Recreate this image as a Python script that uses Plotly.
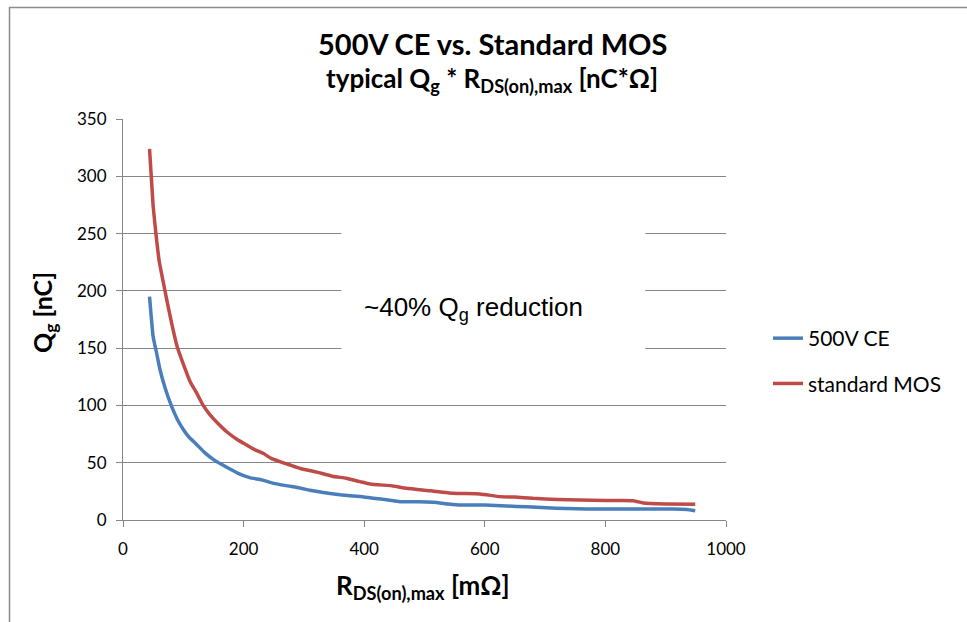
import plotly.graph_objects as go

# ---- data ----
r_ce = [44, 50, 56, 61, 70, 80, 90, 100, 110, 122, 135, 152, 172, 190, 210, 230, 250, 270, 293, 310,
        332, 360, 393, 415, 440, 459, 490, 515, 540, 559, 600, 636, 670, 702, 735, 769, 800, 850, 912, 935, 949]
q_ce = [195, 160, 145, 132, 115, 100, 88, 79, 72, 66, 59, 52, 46, 41, 37, 35, 32, 30, 28, 26,
        24, 22, 20.5, 19, 17.5, 16, 16, 15.4, 14, 13.1, 13, 12.2, 11.5, 10.7, 10, 9.6, 9.6, 9.6, 9.6, 9.2, 8.1]

r_std = [44, 50, 55, 60, 67, 73, 81, 90, 103, 112, 122, 133, 144, 158, 172, 190, 205, 220, 233, 245,
         260, 277, 294, 320, 349, 370, 393, 410, 448, 470, 510, 548, 592, 625, 650, 680, 720, 758, 800,
         846, 863, 900, 949]
q_std = [324, 274, 248, 226, 207, 191, 171, 151, 132, 120, 111, 100, 92, 84, 77, 70, 65.5, 61, 58, 54,
         51, 48, 45, 42, 38, 36.5, 33.5, 31.4, 29.7, 27.7, 25.5, 23.3, 22.7, 20.4, 20, 18.9, 18, 17.5, 17,
         16.9, 14.8, 14, 13.7]

series_names = ["500V CE", "standard MOS"]
series_colors = ["#4a7ebb", "#be4b48"]

x_ticks = [0, 200, 400, 600, 800, 1000]
y_ticks = [0, 50, 100, 150, 200, 250, 300, 350]

FONT = "Lato"
GRID = "#868686"

fig = go.Figure()
for i, (xs, ys) in enumerate([(r_ce, q_ce), (r_std, q_std)]):
    fig.add_trace(go.Scatter(x=xs, y=ys, mode="lines", name=series_names[i],
                             legendgroup=series_names[i],
                             line=dict(color=series_colors[i], width=3.5, shape="spline", smoothing=0.4)))

W, H = 967, 622
L, R, T, B = 123, 241, 119, 102
PW, PH = W - L - R, H - T - B


def px_x(px):
    return (px - L) / PW


def px_y(py):
    return (H - B - py) / PH


def ann(text, px, py, size, family=FONT, angle=0):
    return dict(text=text, x=px_x(px), y=px_y(py), xref="paper", yref="paper",
                xanchor="center", yanchor="middle", textangle=angle, showarrow=False,
                font=dict(family=family, size=size, color="#000"))


annotations = [
    ann("<b>500V CE vs. Standard MOS</b>", 492, 43, 29),
    ann("<b>typical Q<sub>g</sub> * R<sub>DS(on),max</sub> [nC*Ω]</b>", 492, 80, 26),
    ann("<b>Q<sub>g</sub> [nC]</b>", 44, 313, 25, angle=-90),
    ann("<b>R<sub>DS(on),max</sub> [mΩ]</b>", 423, 586, 26),
    dict(text="~40% Q<sub>g</sub> reduction", x=582, y=185, xref="x", yref="y", showarrow=False,
         xanchor="center", yanchor="middle",
         font=dict(family="Liberation Sans", size=26, color="#000")),
]

shapes = [
    # white box behind the annotation, hiding gridlines
    dict(type="rect", xref="x", yref="y", x0=362, x1=866, y0=120, y1=270,
         fillcolor="white", line=dict(width=0), layer="between"),
    # outer chart border
    dict(type="rect", xref="paper", yref="paper", x0=px_x(9.5), x1=px_x(1100), y0=px_y(700), y1=px_y(7.5),
         fillcolor="rgba(0,0,0,0)", line=dict(color="#8c8c8c", width=1.5), layer="above"),
]

fig.update_layout(
    width=W, height=H,
    margin=dict(l=L, r=R, t=T, b=B, pad=0),
    paper_bgcolor="white", plot_bgcolor="white",
    font=dict(family=FONT, size=17, color="#000"),
    showlegend=True,
    legend=dict(x=px_x(768), xanchor="left", y=px_y(361), yanchor="middle",
                font=dict(family=FONT, size=21, color="#000"),
                traceorder="grouped", tracegroupgap=15, bgcolor="rgba(0,0,0,0)"),
    annotations=annotations,
    shapes=shapes,
)

fig.update_xaxes(range=[0, 1000], tickvals=x_ticks, ticktext=[str(v) for v in x_ticks],
                 showgrid=False, zeroline=False, showline=True, linecolor=GRID, linewidth=1,
                 ticks="outside", ticklen=6, tickcolor=GRID, tickfont=dict(family=FONT, size=17),
                 ticklabelstandoff=8)
fig.update_yaxes(range=[0, 350], tickvals=y_ticks, ticktext=[str(v) for v in y_ticks],
                 showgrid=True, gridcolor=GRID, gridwidth=1, zeroline=False,
                 showline=True, linecolor=GRID, linewidth=1,
                 ticks="outside", ticklen=6, tickcolor=GRID, tickfont=dict(family=FONT, size=17),
                 ticklabelstandoff=6)

fig.write_html("out.html", config={"displayModeBar": False},
               post_script="document.body.style.margin='0';")
